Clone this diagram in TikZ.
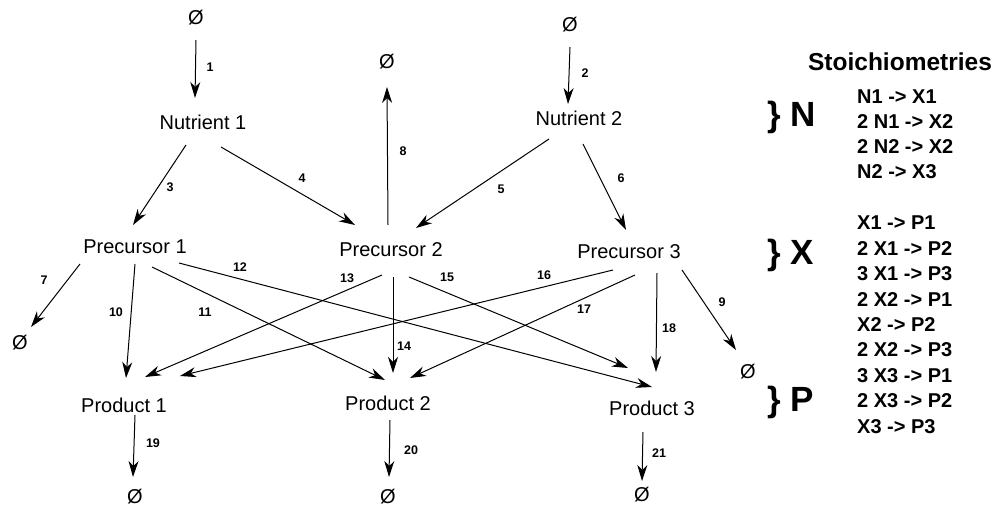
\documentclass[tikz,border=0pt]{standalone}
\usepackage{fontspec}
\setmainfont{Liberation Sans}
\usetikzlibrary{arrows.meta}
\tikzset{
  lbl/.style={font=\fontsize{20}{24}\selectfont, inner sep=0pt},
  num/.style={font=\bfseries\fontsize{12.5}{14}\selectfont, inner sep=0pt},
  stoi/.style={font=\bfseries\fontsize{20}{25}\selectfont, inner sep=0pt, anchor=west},
  brace/.style={font=\bfseries\fontsize{35}{40}\selectfont, inner sep=0pt, anchor=west},
  arr/.style={-{Stealth[length=16pt,width=10pt,inset=5pt]}, line width=1pt},
}
\begin{document}
\begin{tikzpicture}[x=1pt,y=-1pt]
\useasboundingbox (0,0) rectangle (997,508);
% nodes
\node[lbl] (e1) at (196,18) {Ø};
\node[lbl] (n1) at (203,122) {Nutrient 1};
\node[lbl] (e2) at (570,25) {Ø};
\node[lbl] (n2) at (579,118) {Nutrient 2};
\node[lbl] (e8) at (387,62) {Ø};
\node[lbl] (x1) at (135,247) {Precursor 1};
\node[lbl] (x2) at (391,250) {Precursor 2};
\node[lbl] (x3) at (629,252) {Precursor 3};
\node[lbl] (e7) at (20,343) {Ø};
\node[lbl] (e9) at (748,372) {Ø};
\node[lbl] (p1) at (124,405) {Product 1};
\node[lbl] (p2) at (388,403) {Product 2};
\node[lbl] (p3) at (652,408) {Product 3};
\node[lbl] (e19) at (135,497) {Ø};
\node[lbl] (e20) at (388,497) {Ø};
\node[lbl] (e21) at (642,495) {Ø};
% edges
\draw[arr] ([shift={(0,22)}]e1.center) -- ([shift={(-8,-24)}]n1.center);
\draw[arr] ([shift={(0,22)}]e2.center) -- ([shift={(-11,-14)}]n2.center);
\draw[arr] ([shift={(-17,23)}]n1.center) -- ([shift={(-2,-22)}]x1.center);
\draw[arr] ([shift={(18,25)}]n1.center) -- ([shift={(-36,-25)}]x2.center);
\draw[arr] ([shift={(-30,21)}]n2.center) -- ([shift={(25,-22)}]x2.center);
\draw[arr] ([shift={(4,26)}]n2.center) -- ([shift={(-3,-22)}]x3.center);
\draw[arr] ([shift={(-55,17)}]x1.center) -- ([shift={(11,-16)}]e7.center);
\draw[arr] ([shift={(-3,-25)}]x2.center) -- ([shift={(0,25)}]e8.center);
\draw[arr] ([shift={(53,18)}]x3.center) -- ([shift={(-12,-22)}]e9.center);
\draw[arr] ([shift={(0,17)}]x1.center) -- ([shift={(2,-27)}]p1.center);
\draw[arr] ([shift={(17,20)}]x1.center) -- ([shift={(-3,-23)}]p2.center);
\draw[arr] ([shift={(44,16)}]x1.center) -- ([shift={(0,-21)}]p3.center);
\draw[arr] ([shift={(-9,25)}]x2.center) -- ([shift={(21,-28)}]p1.center);
\draw[arr] ([shift={(2,27)}]x2.center) -- ([shift={(5,-30)}]p2.center);
\draw[arr] ([shift={(18,27)}]x2.center) -- ([shift={(-24,-40)}]p3.center);
\draw[arr] ([shift={(-16,18)}]x3.center) -- ([shift={(56,-29)}]p1.center);
\draw[arr] ([shift={(6,23)}]x3.center) -- ([shift={(22,-25)}]p2.center);
\draw[arr] ([shift={(28,21)}]x3.center) -- ([shift={(4,-36)}]p3.center);
\draw[arr] ([shift={(11,10)}]p1.center) -- ([shift={(-2,-20)}]e19.center);
\draw[arr] ([shift={(2,17)}]p2.center) -- ([shift={(1,-20)}]e20.center);
\draw[arr] ([shift={(-9,24)}]p3.center) -- ([shift={(0,-14)}]e21.center);
% edge labels
\node[num] (l1) at (210,67) {1};
\node[num] (l2) at (585,73) {2};
\node[num] (l3) at (170,187) {3};
\node[num] (l4) at (302,178) {4};
\node[num] (l5) at (501,189) {5};
\node[num] (l6) at (621,178) {6};
\node[num] (l7) at (44,280) {7};
\node[num] (l8) at (403,151) {8};
\node[num] (l9) at (722,302) {9};
\node[num] (l10) at (116,312) {10};
\node[num] (l11) at (205,312) {11};
\node[num] (l12) at (240,267) {12};
\node[num] (l13) at (347,278) {13};
\node[num] (l14) at (404,346) {14};
\node[num] (l15) at (447,277) {15};
\node[num] (l16) at (544,275) {16};
\node[num] (l17) at (584,309) {17};
\node[num] (l18) at (669,328) {18};
\node[num] (l19) at (153,443) {19};
\node[num] (l20) at (411,450) {20};
\node[num] (l21) at (659,453) {21};
% stoichiometries
\node[font=\bfseries\fontsize{24.5}{28}\selectfont, inner sep=0pt] (title) at (900,62) {Stoichiometries};
\node[brace] (bN) at (767,117) {\} N};
\node[brace] (bX) at (767,255) {\} X};
\node[brace] (bP) at (767,402) {\} P};
\node[stoi] (s1) at (857,97) {N1 -> X1};
\node[stoi] (s2) at (857,122) {2 N1 -> X2};
\node[stoi] (s3) at (857,147) {2 N2 -> X2};
\node[stoi] (s4) at (857,172) {N2 -> X3};
\node[stoi] (s5) at (857,223) {X1 -> P1};
\node[stoi] (s6) at (857,248.4) {2 X1 -> P2};
\node[stoi] (s7) at (857,273.8) {3 X1 -> P3};
\node[stoi] (s8) at (857,299.2) {2 X2 -> P1};
\node[stoi] (s9) at (857,324.6) {X2 -> P2};
\node[stoi] (s10) at (857,350) {2 X2 -> P3};
\node[stoi] (s11) at (857,375.4) {3 X3 -> P1};
\node[stoi] (s12) at (857,400.8) {2 X3 -> P2};
\node[stoi] (s13) at (857,426.2) {X3 -> P3};
\end{tikzpicture}
\end{document}
